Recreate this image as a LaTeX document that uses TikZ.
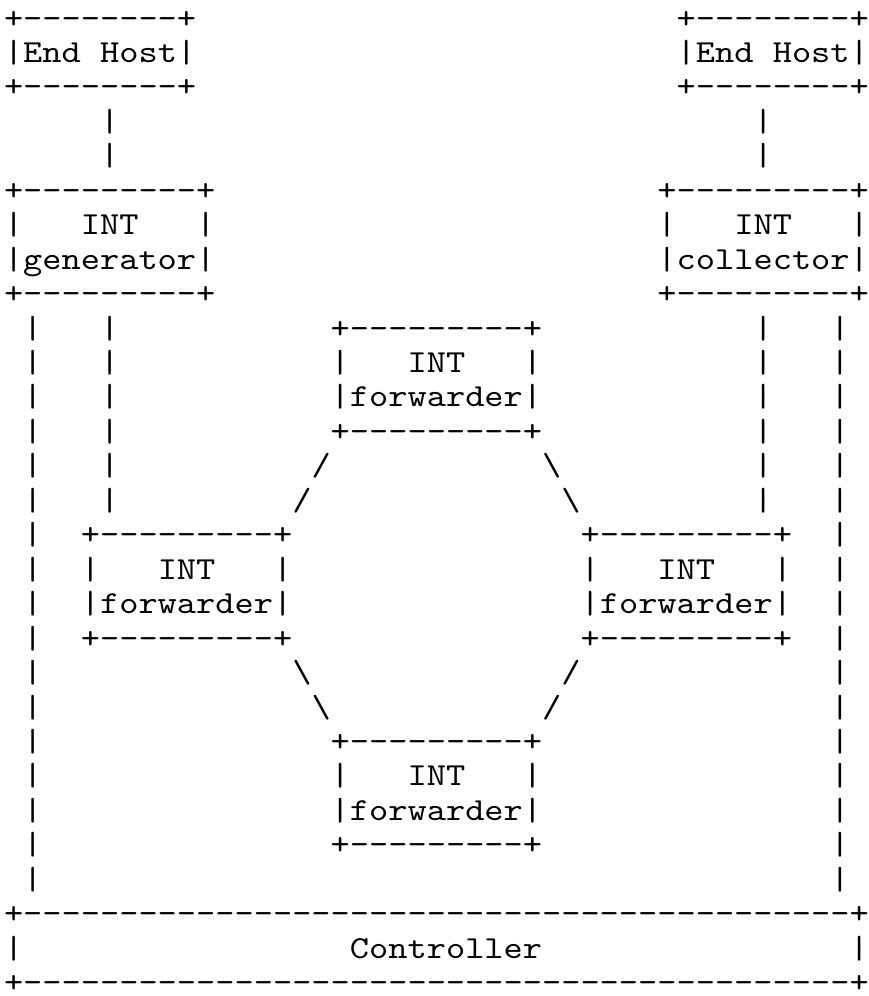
\documentclass[tikz,border=0pt]{standalone}
\usepackage{fontspec}
\setmonofont{lmmono10-regular.otf}[FakeStretch=1.141,Ligatures=TeXOff]

\tikzset{
  glyph/.style={anchor=base west, inner sep=0pt, outer sep=0pt, text=black,
    font=\ttfamily\fontsize{32.08bp}{34.45bp}\selectfont},
}

% one run of characters placed on the character grid: name, column, row, text
\newcommand\glyphs[4]{\node[glyph] (#1) at ({4.0+19.22*(#2)},{28.0+34.45*(#3)}) {#4};}

% two-line INT box: name, column, row, second word
\newcommand\intbox[4]{%
  \glyphs{#1-top}{#2}{#3}{+---------+}
  \glyphs{#1-l}{#2}{#3+1}{|}
  \glyphs{#1-int}{#2+4}{#3+1}{INT}
  \glyphs{#1-r}{#2+10}{#3+1}{|}
  \glyphs{#1-name}{#2}{#3+2}{|#4|}
  \glyphs{#1-bot}{#2}{#3+3}{+---------+}}

% end host box: name, column, row
\newcommand\hostbox[3]{%
  \glyphs{#1-top}{#2}{#3}{+--------+}
  \glyphs{#1-l}{#2}{#3+1}{|End}
  \glyphs{#1-r}{#2+5}{#3+1}{Host|}
  \glyphs{#1-bot}{#2}{#3+2}{+--------+}}

% vertical link made of bars: name, column, first row, last row
\newcommand\vrun[4]{\foreach \r in {#3,...,#4} {\glyphs{#1-\r}{#2}{\r}{|}}}

\begin{document}
\begin{tikzpicture}[x=1bp,y=-1bp]
\useasboundingbox (0,0) rectangle (869,996);
\fill[white] (0,0) rectangle (869,996);

% end hosts
\hostbox{hostL}{0}{0}
\hostbox{hostR}{35}{0}
\vrun{hl}{5}{3}{4}
\vrun{hr}{39}{3}{4}

% generator and collector
\intbox{gen}{0}{5}{generator}
\intbox{col}{34}{5}{collector}

% links down from generator and collector
\vrun{ctlL}{1}{9}{25}
\vrun{genF}{5}{9}{14}
\vrun{colF}{39}{9}{14}
\vrun{ctlR}{43}{9}{25}

% forwarders
\intbox{fwdT}{17}{9}{forwarder}
\intbox{fwdL}{4}{15}{forwarder}
\intbox{fwdR}{30}{15}{forwarder}
\intbox{fwdB}{17}{21}{forwarder}

% diagonal links between forwarders
\glyphs{tl1}{16}{13}{/}
\glyphs{tl2}{15}{14}{/}
\glyphs{tr1}{28}{13}{\textbackslash}
\glyphs{tr2}{29}{14}{\textbackslash}
\glyphs{bl1}{15}{19}{\textbackslash}
\glyphs{bl2}{16}{20}{\textbackslash}
\glyphs{br1}{29}{19}{/}
\glyphs{br2}{28}{20}{/}

% controller
\glyphs{ctl-top}{0}{26}{+-------------------------------------------+}
\glyphs{ctl-l}{0}{27}{|}
\glyphs{ctl}{18}{27}{Controller}
\glyphs{ctl-r}{44}{27}{|}
\glyphs{ctl-bot}{0}{28}{+-------------------------------------------+}
\end{tikzpicture}
\end{document}
